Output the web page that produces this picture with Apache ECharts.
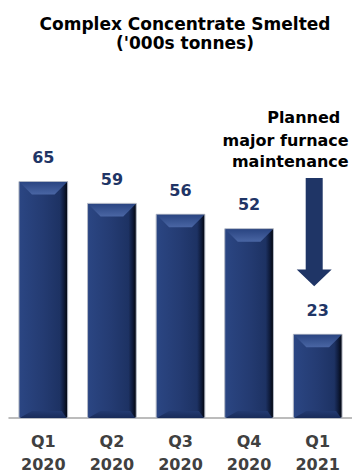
<!DOCTYPE html>
<html><head><meta charset="utf-8">
<script src="https://cdn.jsdelivr.net/npm/echarts@6/dist/echarts.min.js"></script>
<style>html,body{margin:0;padding:0;background:#fff}#c{width:352px;height:476px}</style>
</head><body><div id="c"></div>
<script>
const categories = ['Q1\n2020','Q2\n2020','Q3\n2020','Q4\n2020','Q1\n2021'];
const values = [65, 59, 56, 52, 23];
const titleText = "Complex Concentrate Smelted\n('000s tonnes)";
const noteLines = ["Planned", "major furnace", "maintenance"];
const arrowFrom = 66, arrowHeadStart = 40.8, arrowTip = 36.2; // value units
const arrowCategory = 4;

const FONT = '"DejaVu Sans", sans-serif';
const chart = echarts.init(document.getElementById('c'), null, {renderer:'svg'});

function renderBar(params, api){
  const idx = api.value(0), v = api.value(1);
  const top = api.coord([idx, v]);
  const bot = api.coord([idx, 0]);
  const w = api.size([1,0])[0]*0.71;
  const l = top[0]-w/2, r = top[0]+w/2, t = top[1], b = bot[1];
  const bv = 13;
  return {type:'group', children:[
    {type:'rect', shape:{x:l,y:t,width:w,height:b-t}, style:{
      fill:new echarts.graphic.LinearGradient(0,0,1,0,[
        {offset:0,color:'#2b4683'},{offset:0.5,color:'#243b72'},{offset:0.84,color:'#1d3263'},{offset:0.92,color:'#0f1c3d'},{offset:1,color:'#02050c'}]),
      stroke:'#b3b9c6', lineWidth:1}},
    {type:'polygon', shape:{points:[[l+0.5,t+0.5],[r-0.5,t+0.5],[r-bv,t+bv],[l+bv,t+bv]]}, style:{
      fill:new echarts.graphic.LinearGradient(0,0,0,1,[{offset:0,color:'#2a4582'},{offset:1,color:'#4a66a4'}])}},
    {type:'polygon', shape:{points:[[l+bv,b-7],[r-6,b-7],[r-1,b],[l+0.5,b]]}, style:{
      fill:new echarts.graphic.LinearGradient(0,0,0,1,[{offset:0,color:'#233a71'},{offset:1,color:'#182b59'}])}},
    {type:'text', style:{text:String(v), x:top[0], y:t-16, align:'center', verticalAlign:'bottom',
      fill:'#1f3566', font:'bold 16px '+FONT}}
  ]};
}

chart.setOption({
  animation:false,
  title:{text:titleText, left:180, top:9, textAlign:'center',
    textStyle:{fontFamily:FONT, fontWeight:'bold', fontSize:17, color:'#000', lineHeight:19}},
  grid:{left:9, width:345, top:127, bottom:57},
  xAxis:{type:'category', data:categories, boundaryGap:true,
    axisLine:{lineStyle:{color:'#a6a6a6', width:1.5}},
    axisTick:{length:7, lineStyle:{color:'#a6a6a6', width:1.5}},
    axisLabel:{fontFamily:FONT, fontWeight:'bold', fontSize:16, color:'#404040', lineHeight:23, margin:12}},
  yAxis:{type:'value', min:0, max:80, show:false, splitLine:{show:false}},
  series:[{type:'custom', renderItem:renderBar, data:values.map((v,i)=>[i,v]), clip:false}]
});

function drawNote(){
  const top = chart.convertToPixel({xAxisIndex:0,yAxisIndex:0},[arrowCategory, arrowFrom]);
  const hs = chart.convertToPixel({xAxisIndex:0,yAxisIndex:0},[arrowCategory, arrowHeadStart]);
  const tip = chart.convertToPixel({xAxisIndex:0,yAxisIndex:0},[arrowCategory, arrowTip]);
  const cx = top[0]-3.5;
  const sw = 8.5, hw = 17.5;
  const font = 'bold 16px '+FONT;
  chart.setOption({graphic:[
    {type:'polygon', shape:{points:[[cx-sw,top[1]],[cx+sw,top[1]],[cx+sw,hs[1]],[cx+hw,hs[1]],[cx,tip[1]],[cx-hw,hs[1]],[cx-sw,hs[1]]]},
      style:{fill:'#1f3566'}},
    {type:'text', x:cx-10.5, y:top[1]-60.5, style:{text:noteLines[0], align:'center', verticalAlign:'middle', font:font, fill:'#000'}},
    {type:'text', x:cx+34.5, y:top[1]-37, style:{text:noteLines[1], align:'right', verticalAlign:'middle', font:font, fill:'#000'}},
    {type:'text', x:cx+34.5, y:top[1]-16.5, style:{text:noteLines[2], align:'right', verticalAlign:'middle', font:font, fill:'#000'}}
  ]});
}
drawNote();
</script></body></html>
